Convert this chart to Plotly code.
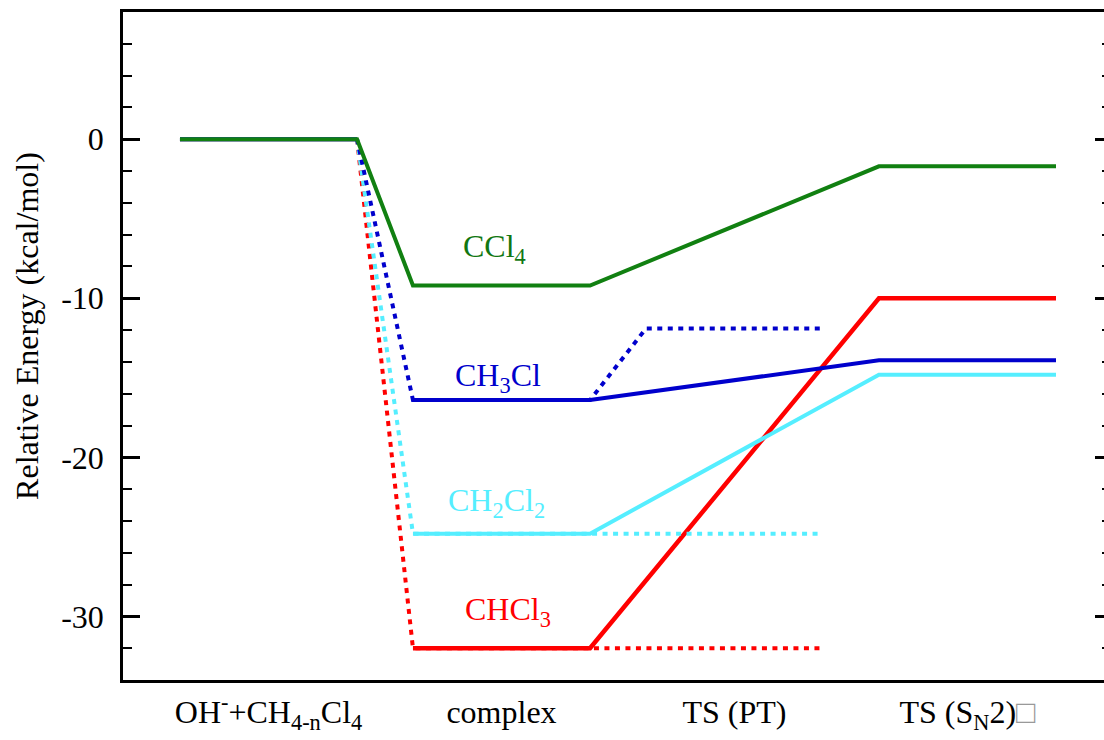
import plotly.graph_objects as go

# ---- data ----
stages = ["OH<sup>-</sup>+CH<sub>4-n</sub>Cl<sub>4</sub>", "complex", "TS (PT)",
          "TS (S<sub>N</sub>2)<span style='color:#999999'>\u25a1</span>"]
stage_pos = [1, 2, 3, 4]

species = ["CCl4", "CH3Cl", "CH2Cl2", "CHCl3"]
species_labels = ["CCl<sub>4</sub>", "CH<sub>3</sub>Cl", "CH<sub>2</sub>Cl<sub>2</sub>", "CHCl<sub>3</sub>"]
colors = ["#118011", "#0000cc", "#55eeff", "#ff0000"]

e_reactant = [0.0, 0.0, 0.0, 0.0]
e_complex = [-9.2, -16.4, -24.8, -32.0]
e_ts_pt = [None, -11.9, -24.8, -32.0]
e_ts_sn2 = [-1.7, -13.9, -14.8, -10.0]

label_x = [1.972, 1.985, 1.98, 2.03]
label_y = [-6.9, -15.0, -22.85, -29.7]

HW = 0.38  # half width of a level

fig = go.Figure()

def lvl(i):
    return stage_pos[i] - HW, stage_pos[i] + HW

# draw order: red, cyan, blue, green (green on top)
for k in [3, 2, 1, 0]:
    c = colors[k]
    r0, r1 = lvl(0)
    c0, c1 = lvl(1)
    p0, p1 = lvl(2)
    s0, s1 = lvl(3)
    if e_ts_pt[k] is not None:
        # dotted: reactant -> complex, and complex -> TS(PT)
        fig.add_trace(go.Scatter(
            x=[r1, c0, c1, p0, p1],
            y=[e_reactant[k], e_complex[k], e_complex[k], e_ts_pt[k], e_ts_pt[k]],
            mode="lines", line=dict(color=c, width=4, dash="5px,5.5px"),
            hoverinfo="skip", showlegend=False))
        # solid: reactant level, complex level, -> TS(SN2)
        fig.add_trace(go.Scatter(
            x=[r0, r1], y=[e_reactant[k], e_reactant[k]],
            mode="lines", line=dict(color=c, width=4), hoverinfo="skip", showlegend=False))
        fig.add_trace(go.Scatter(
            x=[c0, c1, s0, s1],
            y=[e_complex[k], e_complex[k], e_ts_sn2[k], e_ts_sn2[k]],
            mode="lines", line=dict(color=c, width=4 if k != 3 else 4.5),
            hoverinfo="skip", showlegend=False))
    else:
        fig.add_trace(go.Scatter(
            x=[r0, r1, c0, c1, s0, s1],
            y=[e_reactant[k], e_reactant[k], e_complex[k], e_complex[k], e_ts_sn2[k], e_ts_sn2[k]],
            mode="lines", line=dict(color=c, width=4), hoverinfo="skip", showlegend=False))

# helper trace for the right-hand tick axis
fig.add_trace(go.Scatter(x=[stage_pos[0]], y=[e_reactant[0]], yaxis="y2", mode="markers",
                         marker=dict(opacity=0), hoverinfo="skip", showlegend=False))

label_colors = ["#117711", "#0000cc", "#55eeff", "#ff0000"]
for k in range(4):
    fig.add_annotation(x=label_x[k], y=label_y[k], text=species_labels[k], showarrow=False,
                       font=dict(family="Liberation Serif", size=32, color=label_colors[k]),
                       xanchor="center", yanchor="middle")

fig.add_annotation(x=-0.0979, y=0.53, xref="paper", yref="paper", text="Relative Energy (kcal/mol)",
                   textangle=-90, showarrow=False, xanchor="center", yanchor="middle",
                   font=dict(family="Liberation Serif", size=32, color="black"))

yr = [-34, 8]
fig.update_layout(
    width=1104, height=740,
    margin=dict(l=123, r=0, t=12, b=60),
    plot_bgcolor="white", paper_bgcolor="white",
    font=dict(family="Liberation Serif", size=32, color="black"),
    xaxis=dict(range=[0.3755, 4.586], tickvals=stage_pos, ticktext=stages,
               showline=True, linewidth=2.5, linecolor="black", mirror=True,
               ticks="", showgrid=False, zeroline=False, ticklabelstandoff=2),
    yaxis=dict(range=yr, tickvals=[0, -10, -20, -30], ticktext=["0", "-10", "-20", "-30"],
               showline=True, linewidth=2.5, linecolor="black",
               ticks="inside", ticklen=17, tickwidth=2.5, tickcolor="black",
               minor=dict(dtick=2, tick0=0, ticks="inside", ticklen=9, tickwidth=2, tickcolor="black"),
               showgrid=False, zeroline=False, ticklabelstandoff=10),
    yaxis2=dict(range=yr, overlaying="y", side="right", anchor="x",
                tickvals=[0, -10, -20, -30], showticklabels=False,
                ticks="inside", ticklen=9, tickwidth=2.5, tickcolor="black",
                minor=dict(dtick=2, tick0=0, ticks="inside", ticklen=2, tickwidth=2, tickcolor="black"),
                showline=False, showgrid=False, zeroline=False),
)

fig.write_html("out.html", config={"displayModeBar": False},
               post_script="document.body.style.margin='0px';document.body.style.overflow='hidden';")
